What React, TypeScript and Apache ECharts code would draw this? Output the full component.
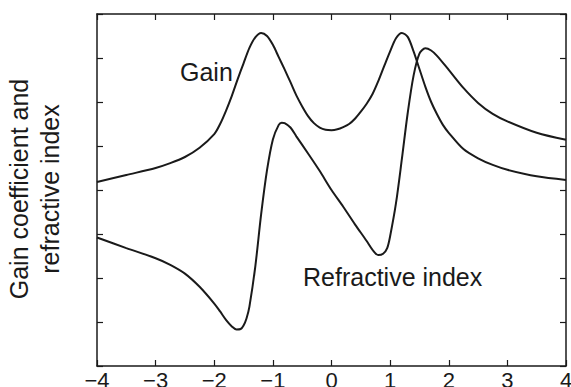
import React, { useEffect, useRef } from "react";
import * as echarts from "echarts";

const xTicks = [-4, -3, -2, -1, 0, 1, 2, 3, 4];

const gainX = [-4.0, -3.5, -3.0, -2.75, -2.5, -2.25, -2.0, -1.9, -1.8, -1.7, -1.6, -1.5, -1.4, -1.3, -1.2, -1.1, -1.0, -0.9, -0.8, -0.7, -0.6, -0.5, -0.4, -0.3, -0.2, -0.1, 0, 0.1, 0.2, 0.3, 0.4, 0.5, 0.6, 0.7, 0.8, 0.9, 1.0, 1.1, 1.2, 1.3, 1.4, 1.5, 1.6, 1.7, 1.8, 1.9, 2.0, 2.25, 2.5, 2.75, 3.0, 3.5, 4.0];
const gainY = [4.18, 4.34, 4.5, 4.61, 4.75, 4.96, 5.27, 5.5, 5.8, 6.14, 6.52, 6.88, 7.23, 7.47, 7.57, 7.5, 7.3, 7.02, 6.74, 6.45, 6.15, 5.9, 5.68, 5.52, 5.42, 5.37, 5.36, 5.38, 5.43, 5.5, 5.62, 5.78, 5.96, 6.18, 6.48, 6.82, 7.15, 7.45, 7.57, 7.48, 7.15, 6.75, 6.35, 6.0, 5.72, 5.48, 5.3, 4.93, 4.72, 4.57, 4.46, 4.31, 4.23];

const refrX = [-4.0, -3.5, -3.0, -2.75, -2.5, -2.25, -2.0, -1.9, -1.8, -1.7, -1.62, -1.55, -1.5, -1.45, -1.4, -1.3, -1.2, -1.1, -1.0, -0.9, -0.85, -0.8, -0.7, -0.6, -0.4, -0.2, 0, 0.2, 0.4, 0.6, 0.7, 0.8, 0.88, 0.95, 1.0, 1.1, 1.2, 1.3, 1.4, 1.5, 1.6, 1.7, 1.8, 2.0, 2.25, 2.5, 2.75, 3.0, 3.5, 4.0];
const refrY = [2.92, 2.68, 2.45, 2.3, 2.1, 1.8, 1.42, 1.24, 1.05, 0.9, 0.83, 0.84, 0.92, 1.08, 1.35, 2.26, 3.45, 4.45, 5.15, 5.48, 5.53, 5.52, 5.42, 5.22, 4.83, 4.43, 4.0, 3.62, 3.22, 2.84, 2.64, 2.52, 2.55, 2.68, 2.95, 3.7, 4.7, 5.75, 6.6, 7.1, 7.22, 7.17, 7.05, 6.73, 6.32, 5.98, 5.73, 5.56, 5.3, 5.14];

const FONT = "'Liberation Sans', Arial, Helvetica, sans-serif";
const INK = "#1a1a1a";

export default function App() {
  const ref = useRef<HTMLDivElement>(null);
  useEffect(() => {
    document.body.style.margin = "0";
    const chart = echarts.init(ref.current!, null, { renderer: "svg" });
    const axisLine = { show: true, onZero: false, lineStyle: { color: INK, width: 1.5 } };
    const tick = { show: true, inside: true, length: 6, lineStyle: { color: INK, width: 1.2 } };
    chart.setOption({
      animation: false,
      backgroundColor: "#ffffff",
      grid: { left: 97, right: 5, top: 14, bottom: 21, outerBoundsMode: "none", containLabel: false },
      xAxis: [
        {
          type: "value", position: "bottom", min: -4, max: 4, interval: 1,
          axisLine, axisTick: tick, splitLine: { show: false },
          axisLabel: {
            show: true, margin: 3, fontSize: 22, color: INK, fontFamily: FONT,
            formatter: (v: number) => (xTicks.includes(v) ? String(v).replace("-", "\u2212") : ""),
          },
        },
        {
          type: "value", position: "top", min: -4, max: 4, interval: 1,
          axisLine, axisTick: tick, splitLine: { show: false }, axisLabel: { show: false },
        },
      ],
      yAxis: [
        {
          type: "value", position: "left", min: 0, max: 8, interval: 1,
          axisLine, axisTick: tick, splitLine: { show: false }, axisLabel: { show: false },
        },
        {
          type: "value", position: "right", min: 0, max: 8, interval: 1,
          axisLine, axisTick: tick, splitLine: { show: false }, axisLabel: { show: false },
        },
      ],
      series: [
        {
          name: "Gain", type: "line", xAxisIndex: 0, yAxisIndex: 0, smooth: 0.3, symbol: "none",
          lineStyle: { color: INK, width: 2 },
          data: gainX.map((x, i) => [x, gainY[i]]),
        },
        {
          name: "Refractive index", type: "line", xAxisIndex: 0, yAxisIndex: 0, smooth: 0.3, symbol: "none",
          lineStyle: { color: INK, width: 2 },
          data: refrX.map((x, i) => [x, refrY[i]]),
        },
      ],
      graphic: [
        {
          type: "text", x: 180, y: 71.5,
          style: { text: "Gain", fontSize: 25, fontFamily: FONT, fill: INK, textAlign: "left", textVerticalAlign: "middle" },
        },
        {
          type: "text", x: 303, y: 276.5,
          style: { text: "Refractive index", fontSize: 25, fontFamily: FONT, fill: INK, textAlign: "left", textVerticalAlign: "middle" },
        },
        {
          type: "text", x: 34, y: 189, rotation: Math.PI / 2,
          style: {
            text: "Gain coefficient and\nrefractive index", fontSize: 25, lineHeight: 31, fontFamily: FONT,
            fill: INK, textAlign: "center", textVerticalAlign: "middle",
          },
        },
      ],
    });
    return () => chart.dispose();
  }, []);
  return <div ref={ref} style={{ position: "absolute", left: 0, top: 0, width: 571, height: 387 }} />;
}
